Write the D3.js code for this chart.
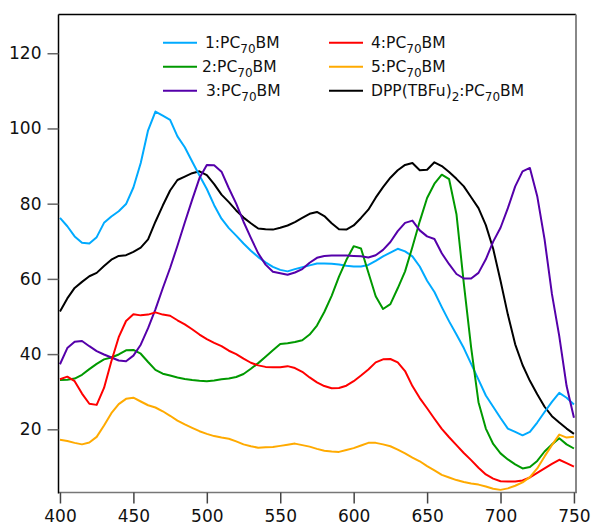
<!DOCTYPE html>
<html><head><meta charset="utf-8">
<script src="https://cdn.jsdelivr.net/npm/d3@7"></script>
<style>body{margin:0;background:#fff}svg{display:block}text{font-family:"DejaVu Sans",Verdana,sans-serif;fill:#111}</style>
</head><body><svg id="c" width="591" height="528"></svg>
<script>
const wavelengths = [400,405,410,415,420,425,430,435,440,445,450,455,460,465,470,475,480,485,490,495,500,505,510,515,520,525,530,535,540,545,550,555,560,565,570,575,580,585,590,595,600,605,610,615,620,625,630,635,640,645,650,655,660,665,670,675,680,685,690,695,700,705,710,715,720,725,730,735,740,745,750];
const s1 = [76.2,74,71.3,69.6,69.4,71.1,74.9,76.6,78,79.9,84.3,90.8,99.5,104.5,103.4,102.3,97.9,95,91.2,87.5,83.9,79.6,76,73.5,71.5,69.4,67.5,65.8,64.4,63.2,62.4,62.0,62.6,63.1,63.6,64.1,64.1,64.0,63.8,63.5,63.3,63.3,63.7,64.8,66.0,67.0,68.0,67.3,66.0,63.3,59.5,56.5,52.5,48.7,45.2,41.6,37.4,33.2,29.0,26.0,23.0,20.2,19.3,18.4,19.3,21.8,24.6,27.3,29.7,28.4,26.6];
const s2 = [33.1,33.2,33.5,34.5,36.0,37.4,38.6,39.1,39.9,41.0,41.1,40.1,37.9,35.8,34.8,34.3,33.8,33.4,33.1,32.9,32.8,33.0,33.3,33.5,33.9,34.7,36.1,37.6,39.3,41.0,42.7,42.9,43.2,43.7,45.2,47.6,51.2,55.5,60.6,65.0,68.7,68.1,61.7,55.4,52.0,53.3,57.5,62.0,68.5,75.3,81.5,85.3,87.7,86.5,77.2,58.8,41.7,27.2,20.2,16.1,13.6,12.0,10.7,9.6,10.0,11.6,14.1,16.0,17.6,16.0,14.9];
const s3 = [37.3,41.6,43.3,43.5,42.1,40.8,39.9,39.1,38.3,38.1,39.6,42.5,46.9,51.9,57.5,62.9,68.8,75.0,81.0,86.8,90.3,90.2,88.5,84.1,80.0,75.2,70.9,66.8,63.8,61.9,61.5,61.1,61.7,62.6,64.3,65.6,66.1,66.2,66.2,66.2,66.1,66.0,65.7,66.3,67.7,69.8,72.7,74.9,75.5,72.9,71.3,70.6,66.8,63.9,61.3,60.1,60.1,61.6,65.2,69.9,73.6,78.8,84.6,88.6,89.5,82.0,70.5,56.0,44.8,31.5,23.1];
const s4 = [33.3,34.0,32.8,29.5,26.8,26.5,31.0,38.1,44.5,48.8,50.6,50.3,50.5,51.1,50.5,50.2,49.0,47.9,46.6,45.2,44.0,43.0,42.1,40.9,40.0,38.8,37.7,37.0,36.6,36.5,36.5,36.8,36.3,35.3,33.8,32.5,31.5,30.9,31.0,31.6,32.8,34.3,35.9,37.8,38.6,38.7,37.8,35.5,31.5,28.3,25.6,22.8,20.1,17.9,15.8,13.7,11.8,9.8,8.0,6.9,6.2,6.1,6.1,6.4,7.2,8.4,9.6,10.8,11.9,11.0,10.1];
const s5 = [17.2,16.9,16.4,16.0,16.5,18.0,21.0,24.3,26.7,28.1,28.4,27.4,26.4,25.8,24.8,23.6,22.3,21.3,20.4,19.5,18.8,18.2,17.8,17.5,16.8,16.0,15.5,15.1,15.2,15.3,15.6,15.9,16.2,15.8,15.4,14.8,14.3,14.1,14.0,14.5,15.0,15.7,16.4,16.4,16.0,15.5,14.6,13.6,12.5,11.5,10.2,9.1,7.9,7.2,6.5,6.0,5.6,5.3,4.8,4.2,3.9,4.3,5.0,5.9,7.3,9.6,12.8,15.8,18.6,17.8,18.0];
const sDPP = [51.3,54.8,57.6,59.2,60.7,61.6,63.4,65.1,66.1,66.3,67.2,68.3,70.5,75.2,79.5,83.5,86.3,87.2,88.1,88.6,87.6,85.2,82.4,80.4,78.2,76.3,74.8,73.4,73.2,73.1,73.6,74.2,75.1,76.2,77.3,77.8,76.7,74.8,73.2,73.1,74.2,76.2,78.4,81.6,84.4,86.9,88.9,90.3,90.8,88.9,89.0,91.0,90.0,88.4,86.6,84.6,81.7,78.8,74.3,68.0,59.5,50.5,42.6,37.1,32.9,29.3,26.0,23.5,21.8,20.2,18.8];
const seriesNames = ["1","2","3","4","5","DPP(TBFu)"];
const seriesColors = ["#00aaff","#009900","#5500aa","#ff0000","#ffaa00","#000000"];
const xTicks = [400,450,500,550,600,650,700,750];
const yTicks = [20,40,60,80,100,120];

const svg = d3.select("#c");
const L=58.5, R=576, T=14.5, B=492.5;
const x = d3.scaleLinear().domain([399,751.4]).range([L,R]);
const y = d3.scaleLinear().domain([3.2,130.3]).range([B,T]);

const allSeries = [s1,s2,s3,s4,s5,sDPP];
svg.append("clipPath").attr("id","clip").append("rect").attr("x",L).attr("y",T).attr("width",R-L).attr("height",B-T);
const line = d3.line().x((d,i)=>x(wavelengths[i])).y(d=>y(d));
const g = svg.append("g").attr("clip-path","url(#clip)");
const order=[5,0,1,2,3,4];
order.forEach(k=>{
  g.append("path").datum(allSeries[k]).attr("d",line).attr("fill","none")
   .attr("stroke",seriesColors[k]).attr("stroke-width",2).attr("stroke-linejoin","round");
});

// frame
svg.append("line").attr("x1",L).attr("x2",R).attr("y1",T).attr("y2",T).attr("stroke","#000").attr("stroke-width",1.5);
svg.append("line").attr("x1",R).attr("x2",R).attr("y1",T).attr("y2",B).attr("stroke","#888").attr("stroke-width",2);
svg.append("line").attr("x1",L).attr("x2",R+1).attr("y1",B).attr("y2",B).attr("stroke","#777").attr("stroke-width",1.5);
svg.append("line").attr("x1",L).attr("x2",L).attr("y1",T).attr("y2",B+1).attr("stroke","#000").attr("stroke-width",1.5);

const yAxis = d3.axisLeft(y).tickValues(yTicks).tickSize(11).tickPadding(6).tickFormat(d3.format("d"));
const ga = svg.append("g").attr("transform",`translate(${L},0)`).call(yAxis);
ga.select(".domain").remove();
ga.selectAll(".tick line").attr("stroke","#666").attr("stroke-width",1.5);
ga.selectAll(".tick text").style("font-size","17px").attr("fill","#111").attr("font-family","DejaVu Sans");

const xAxis = d3.axisBottom(x).tickValues(xTicks).tickSize(11).tickPadding(6).tickFormat(d3.format("d"));
const gx = svg.append("g").attr("transform",`translate(0,${B})`).call(xAxis);
gx.select(".domain").remove();
gx.selectAll(".tick line").attr("stroke","#444").attr("stroke-width",1.5);
gx.selectAll(".tick text").style("font-size","17px").attr("fill","#111").attr("font-family","DejaVu Sans");

// legend
const legPos = [[163,42.7,205],[163,66.7,202],[163,90.7,206],[329,42.7,371],[329,66.7,371],[329,90.7,371]];
seriesNames.forEach((n,i)=>{
  const [lx,ly,tx]=legPos[i];
  svg.append("line").attr("x1",lx).attr("x2",lx+34).attr("y1",ly).attr("y2",ly).attr("stroke",seriesColors[i]).attr("stroke-width",2);
  const t = svg.append("text").attr("x",tx).attr("y",ly+5.5).style("font-size","15.5px");
  if(n==="DPP(TBFu)"){
    t.append("tspan").text("DPP(TBFu)");
    t.append("tspan").text("2").attr("dy",4.5).style("font-size","12px");
    t.append("tspan").text(":PC").attr("dy",-4.5);
  } else {
    t.append("tspan").text(n+":PC");
  }
  t.append("tspan").text("70").attr("dy",4.5).style("font-size","12px");
  t.append("tspan").text("BM").attr("dy",-4.5);
});
</script></body></html>
